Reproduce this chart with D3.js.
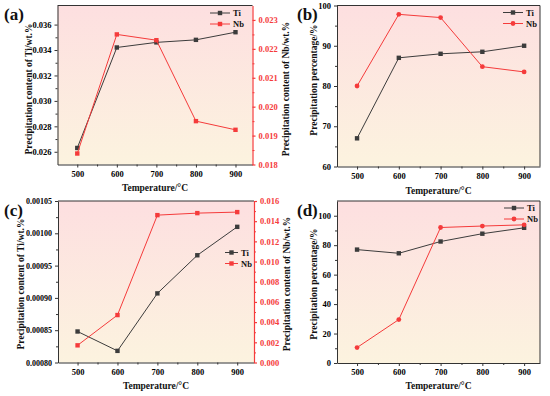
<!DOCTYPE html>
<html>
<head>
<meta charset="utf-8">
<script src="https://cdn.jsdelivr.net/npm/d3@7"></script>
<style>
  body { margin: 0; background: #fff; }
  svg text { font-family: "Liberation Serif", "Times New Roman", serif; font-weight: bold; }
</style>
</head>
<body>
<svg id="fig" width="550" height="396"></svg>
<script>
const temps = [500, 600, 700, 800, 900];

// (a) precipitation content, wt.%
const tiContentA = [0.0263, 0.0342, 0.0346, 0.0348, 0.0354];
const nbContentA = [0.01838, 0.0225, 0.0223, 0.0195, 0.0192];
// (b) precipitation percentage, %
const tiPercentB = [67, 87, 88, 88.5, 90];
const nbPercentB = [80, 97.8, 97, 84.8, 83.5];
// (c) precipitation content, wt.%
const tiContentC = [0.000848, 0.000818, 0.000907, 0.000966, 0.00101];
const nbContentC = [0.0017, 0.0047, 0.0146, 0.0148, 0.0149];
// (d) precipitation percentage, %
const tiPercentD = [77, 74.5, 82.5, 87.8, 91.8];
const nbPercentD = [10.5, 29.5, 92, 93, 93.8];

const ticksA = [0.026, 0.028, 0.030, 0.032, 0.034, 0.036];
const ticksA2 = [0.018, 0.019, 0.020, 0.021, 0.022, 0.023];
const ticksB = [60, 70, 80, 90, 100];
const ticksC = [0.00080, 0.00085, 0.00090, 0.00095, 0.00100, 0.00105];
const ticksC2 = [0, 0.002, 0.004, 0.006, 0.008, 0.010, 0.012, 0.014, 0.016];
const ticksD = [0, 20, 40, 60, 80, 100];

const TI = "#3c3c3c", NB = "#f53b3b";

const svg = d3.select("#fig");
const defs = svg.append("defs");
const grad = defs.append("linearGradient").attr("id", "bg")
  .attr("x1", 0).attr("y1", 0).attr("x2", 0).attr("y2", 1);
grad.append("stop").attr("offset", "0%").attr("stop-color", "#fddfe0");
grad.append("stop").attr("offset", "100%").attr("stop-color", "#fcf3df");

function midTicks(t) {
  const out = [];
  for (let i = 0; i < t.length - 1; i++) out.push((t[i] + t[i + 1]) / 2);
  return out;
}

function drawPanel(p) {
  const g = svg.append("g");
  const x = d3.scaleLinear().domain(p.xDom).range([p.x0, p.x1]);
  const y = d3.scaleLinear().domain(p.yDom).range([p.y1, p.y0]);

  g.append("rect")
    .attr("x", p.x0).attr("y", p.y0)
    .attr("width", p.x1 - p.x0).attr("height", p.y1 - p.y0)
    .attr("fill", "url(#bg)");

  // bottom axis
  const xa = g.append("g").attr("transform", `translate(0,${p.y1})`)
    .call(d3.axisBottom(x).tickValues(temps).tickSize(3).tickSizeOuter(0).tickPadding(3));
  g.append("g").attr("transform", `translate(0,${p.y1})`)
    .call(d3.axisBottom(x).tickValues(midTicks(temps)).tickSize(2).tickFormat(""))
    .call(a => a.select(".domain").remove());
  xa.selectAll("text").attr("font-size", 8.5);

  // left axis
  const ya = g.append("g").attr("transform", `translate(${p.x0},0)`)
    .call(d3.axisLeft(y).tickValues(p.yTicks).tickSize(3).tickSizeOuter(0).tickPadding(3).tickFormat(p.yFmt));
  g.append("g").attr("transform", `translate(${p.x0},0)`)
    .call(d3.axisLeft(y).tickValues(midTicks(p.yTicks)).tickSize(2).tickFormat(""))
    .call(a => a.select(".domain").remove());
  ya.selectAll("text").attr("font-size", p.yFont || 8.5);
  g.selectAll(".domain, .tick line").attr("stroke", "#333").attr("stroke-width", 1);

  // top frame
  g.append("line").attr("x1", p.x0).attr("x2", p.x1).attr("y1", p.y0).attr("y2", p.y0)
    .attr("stroke", "#333");

  let y2 = null;
  if (p.y2Dom) {
    y2 = d3.scaleLinear().domain(p.y2Dom).range([p.y1, p.y0]);
    const ra = g.append("g").attr("transform", `translate(${p.x1},0)`)
      .call(d3.axisRight(y2).tickValues(p.y2Ticks).tickSize(3).tickSizeOuter(0).tickPadding(3).tickFormat(d3.format(".3f")));
    const rm = g.append("g").attr("transform", `translate(${p.x1},0)`)
      .call(d3.axisRight(y2).tickValues(midTicks(p.y2Ticks)).tickSize(2).tickFormat(""))
      .call(a => a.select(".domain").remove());
    ra.selectAll(".domain, .tick line").attr("stroke", NB).attr("stroke-width", 1.2);
    rm.selectAll(".tick line").attr("stroke", NB);
    ra.selectAll("text").attr("font-size", 8.5).attr("fill", NB);
    g.append("text")
      .attr("transform", `translate(${p.y2TitleX},${p.yTitleY}) rotate(-90)`)
      .attr("text-anchor", "middle").attr("font-size", 9.5).attr("fill", "#111")
      .text(p.y2Title);
  } else {
    g.append("line").attr("x1", p.x1).attr("x2", p.x1).attr("y1", p.y0).attr("y2", p.y1)
      .attr("stroke", "#333");
  }
  g.selectAll(".tick text").attr("font-family", "Liberation Serif").attr("font-weight", "bold");

  // titles
  g.append("text")
    .attr("transform", `translate(${p.yTitleX},${p.yTitleY}) rotate(-90)`)
    .attr("text-anchor", "middle").attr("font-size", 9.5).attr("fill", "#111")
    .text(p.yTitle);
  g.append("text").attr("x", (p.x0 + p.x1) / 2).attr("y", p.xTitleY)
    .attr("text-anchor", "middle").attr("font-size", 9.5).attr("fill", "#111")
    .text("Temperature/°C");
  g.append("text").attr("x", p.labelX).attr("y", p.labelY)
    .attr("font-size", 17).attr("fill", "#111").text(p.label);

  // series
  const series = [
    { name: "Ti", vals: p.ti, sc: y, color: TI, shape: "square" },
    { name: "Nb", vals: p.nb, sc: y2 || y, color: NB, shape: p.nbShape }
  ];
  const line = sc => d3.line().x((d, i) => x(temps[i])).y(d => sc(d));
  series.forEach(s => {
    g.append("path").datum(s.vals).attr("d", line(s.sc))
      .attr("fill", "none").attr("stroke", s.color).attr("stroke-width", 1);
    s.vals.forEach((v, i) => drawMarker(g, x(temps[i]), s.sc(v), s.shape, s.color));
  });

  // legend
  const len = p.legLen || 20;
  series.forEach((s, k) => {
    const ly = p.legY + k * 11;
    g.append("line").attr("x1", p.legX).attr("x2", p.legX + len).attr("y1", ly).attr("y2", ly)
      .attr("stroke", s.color).attr("stroke-width", 1);
    drawMarker(g, p.legX + len / 2, ly, s.shape, s.color);
    g.append("text").attr("x", p.legX + len + 3).attr("y", ly + 3)
      .attr("font-size", 8.5).attr("fill", "#111").text(s.name);
  });
}

function drawMarker(g, cx, cy, shape, color) {
  if (shape === "circle") {
    g.append("circle").attr("cx", cx).attr("cy", cy).attr("r", 2.4).attr("fill", color);
  } else {
    g.append("rect").attr("x", cx - 2.2).attr("y", cy - 2.2).attr("width", 4.4).attr("height", 4.4)
      .attr("fill", color);
  }
}

const fmt3 = d3.format(".3f"), fmt5 = d3.format(".5f"), fmt0 = d3.format("d");

drawPanel({
  label: "(a)", labelX: 4, labelY: 20,
  x0: 57.5, x1: 252.5, y0: 5.5, y1: 164.5, xDom: [450, 943],
  yDom: [0.025, 0.0375], yTicks: ticksA, yFmt: fmt3,
  y2Dom: [0.018, 0.0235], y2Ticks: ticksA2,
  ti: tiContentA, nb: nbContentA, nbShape: "square",
  yTitle: "Precipitation content of Ti/wt.%", yTitleX: 32, yTitleY: 89,
  y2Title: "Precipitation content of Nb/wt.%", y2TitleX: 289,
  xTitleY: 191, legX: 210, legY: 13
});
drawPanel({
  label: "(b)", labelX: 297, labelY: 20,
  x0: 337, x1: 540, y0: 5.5, y1: 166.5, xDom: [452, 938],
  yDom: [60, 100], yTicks: ticksB, yFmt: fmt0,
  ti: tiPercentB, nb: nbPercentB, nbShape: "circle",
  yTitle: "Precipitation percentage/%", yTitleX: 317, yTitleY: 80,
  xTitleY: 194, legX: 503, legY: 12.5
});
drawPanel({
  label: "(c)", labelX: 4, labelY: 216,
  x0: 58, x1: 254, y0: 201, y1: 362.5, xDom: [451, 942],
  yDom: [0.0008, 0.00105], yTicks: ticksC, yFmt: fmt5, yFont: 8,
  y2Dom: [0, 0.016], y2Ticks: ticksC2,
  ti: tiContentC, nb: nbContentC, nbShape: "square",
  yTitle: "Precipitation content of Ti/wt.%", yTitleX: 24, yTitleY: 284,
  y2Title: "Precipitation content of Nb/wt.%", y2TitleX: 290,
  xTitleY: 389, legX: 225, legY: 252.5, legLen: 13
});
drawPanel({
  label: "(d)", labelX: 297, labelY: 216,
  x0: 337, x1: 540, y0: 201, y1: 363, xDom: [452, 938],
  yDom: [0, 110], yTicks: ticksD, yFmt: fmt0,
  ti: tiPercentD, nb: nbPercentD, nbShape: "circle",
  yTitle: "Precipitation percentage/%", yTitleX: 317, yTitleY: 284,
  xTitleY: 389, legX: 504, legY: 208
});
</script>
</body>
</html>
